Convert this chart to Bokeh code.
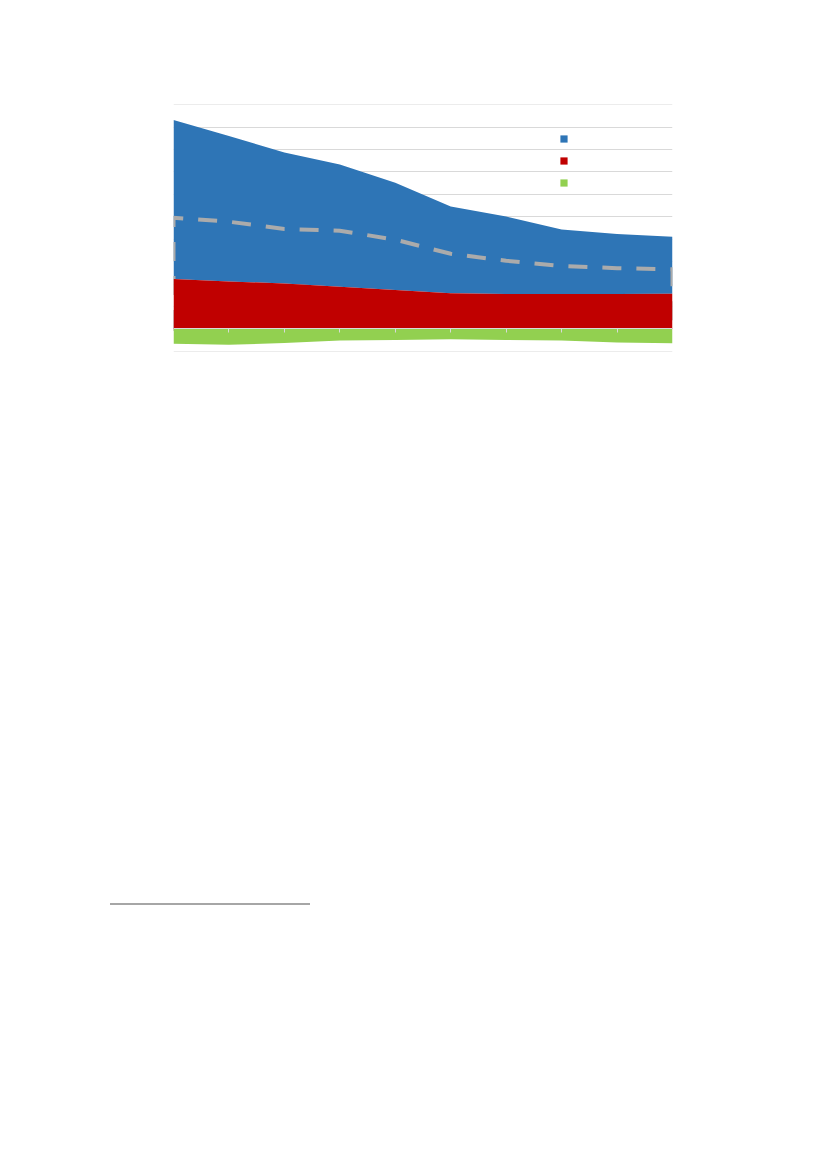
from bokeh.plotting import figure
from bokeh.models import (ColumnDataSource, Range1d, FixedTicker, Legend, LegendItem,
                          Div, CustomJSTickFormatter)
from bokeh.layouts import column
from bokeh.embed import file_html
from bokeh.resources import INLINE

# ---- data (arbitrary units) ----
periods = [0, 1, 2, 3, 4, 5, 6, 7, 8, 9]
red_vals = [22.3, 21.2, 20.3, 18.8, 17.4, 15.9, 15.6, 15.6, 15.6, 15.7]
blue_vals = [70.8, 64.8, 58.4, 54.5, 47.8, 38.7, 34.5, 28.7, 26.7, 25.4]
green_vals = [-6.6, -7.0, -6.3, -5.2, -4.9, -4.6, -4.9, -5.2, -6.0, -6.4]
line_vals = [49.6, 47.8, 44.6, 43.8, 39.8, 33.5, 30.4, 28.1, 27.1, 26.6]
y_ticks = [-10, 0, 10, 20, 30, 40, 50, 60, 70, 80, 90, 100]

BLUE = "#2e75b6"
RED = "#c00000"
GREEN = "#92d050"
GRID = "#d9d9d9"
DASH = "#ababab"

zeros = [0] * len(periods)
red_top = red_vals
blue_top = [r + b for r, b in zip(red_vals, blue_vals)]

src = ColumnDataSource(dict(x=periods, zero=zeros, red_top=red_top,
                            blue_top=blue_top, green=green_vals))

p = figure(width=700, height=369, output_backend="svg", toolbar_location=None,
           x_range=Range1d(periods[0], periods[-1]), y_range=Range1d(-10.05, 100.05),
           min_border_left=173, min_border_right=28, min_border_top=104,
           min_border_bottom=18)
p.outline_line_color = None
p.background_fill_color = "white"
p.border_fill_color = "white"

p.yaxis.visible = False
p.ygrid.ticker = FixedTicker(ticks=y_ticks)
p.ygrid.grid_line_color = GRID
p.ygrid.grid_line_width = 1
p.xgrid.visible = False

# areas
r_blue = p.varea(x="x", y1="red_top", y2="blue_top", source=src, fill_color=BLUE)
xs_line = [periods[0]] + periods + [periods[-1]]
ys_line = [0] + line_vals + [0]
p.patch(xs_line, ys_line, fill_color=None, line_color=DASH, line_width=4,
        line_dash="19 15", line_join="miter")
r_red = p.varea(x="x", y1="zero", y2="red_top", source=src, fill_color=RED)
r_green = p.varea(x="x", y1="green", y2="zero", source=src, fill_color=GREEN)

# x axis at zero (ticks only, no labels)
xa = p.xaxis[0]
xa.fixed_location = 0
xa.ticker = FixedTicker(ticks=periods[1:-1])
xa.formatter = CustomJSTickFormatter(code="return ''")
xa.axis_line_color = GRID
xa.major_tick_line_color = GRID
xa.major_tick_out = 4
xa.major_tick_in = 0
xa.minor_tick_line_color = None

legend = Legend(items=[LegendItem(label="", renderers=[r_blue]),
                       LegendItem(label="", renderers=[r_red]),
                       LegendItem(label="", renderers=[r_green])],
                location=(386, 164), glyph_width=9, glyph_height=9,
                label_height=9, label_width=0, label_standoff=0,
                spacing=13, padding=0, margin=0,
                border_line_color=None, background_fill_alpha=0)
p.add_layout(legend)

note_line = Div(text='<div style="width:200px;height:2px;background:#a6a6a6;"></div>',
                width=200, height=2, margin=(524, 0, 0, 110))

layout = column(p, note_line, spacing=0)
open("out.html", "w").write(file_html(layout, INLINE))
